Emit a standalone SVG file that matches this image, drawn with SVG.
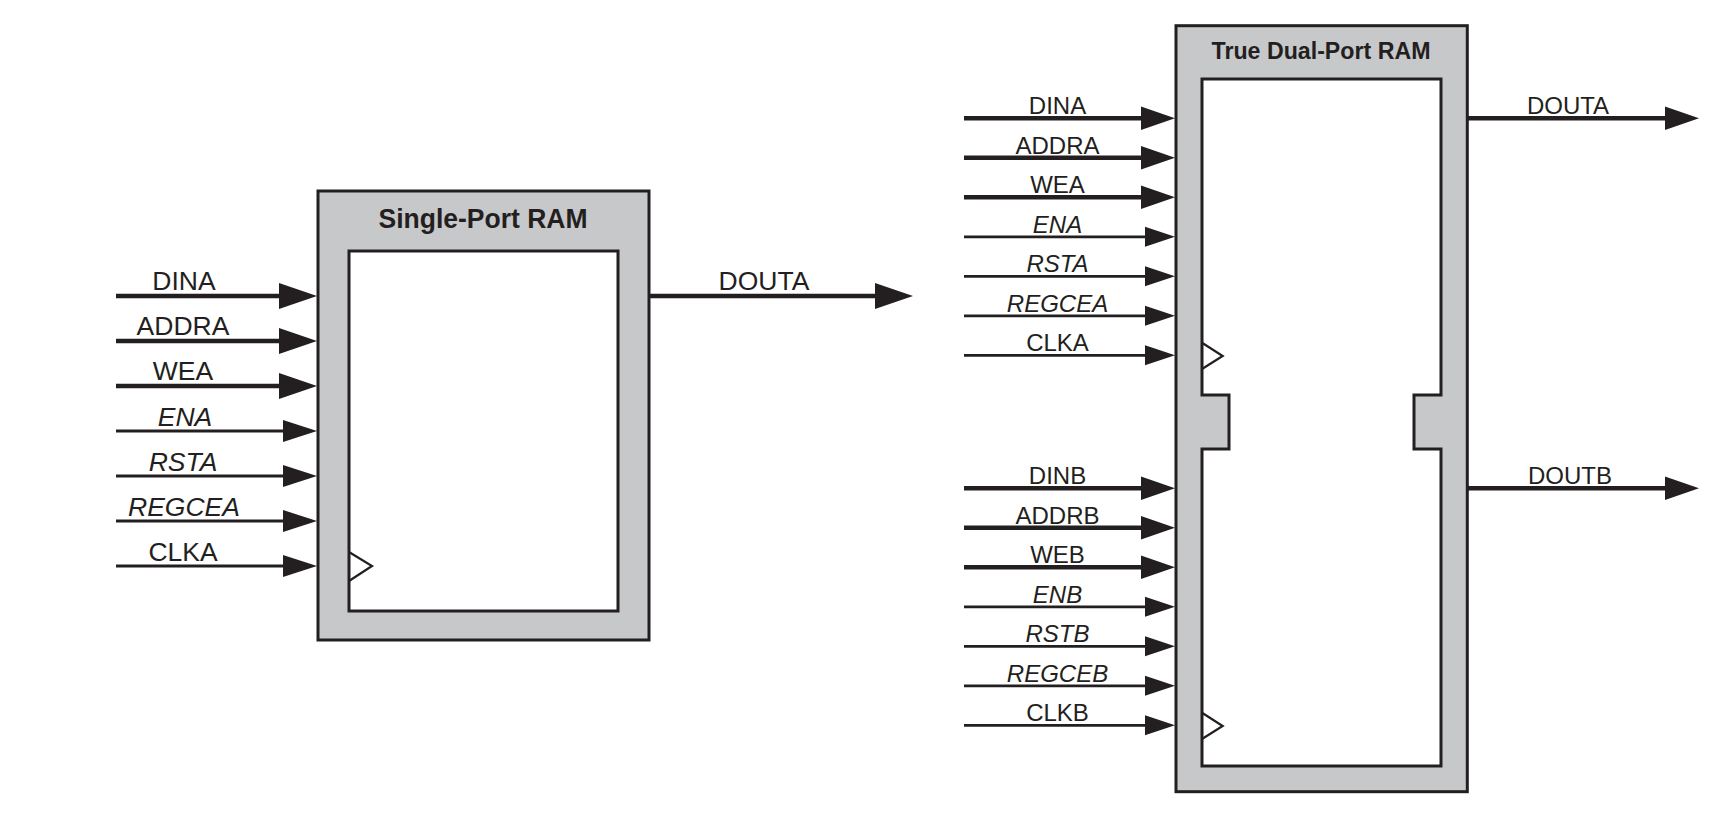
<svg xmlns="http://www.w3.org/2000/svg" width="1714" height="824" viewBox="0 0 1714 824">
<style>
  .outer { fill:#c7c8ca; stroke:#231f20; stroke-width:3; }
  .inner { fill:#ffffff; stroke:#231f20; stroke-width:3; }
  .clk { fill:none; stroke:#231f20; stroke-width:2.2; }
  .bus { stroke:#231f20; stroke-width:4.5; fill:none; }
  .sig { stroke:#231f20; stroke-width:2.8; fill:none; }
  text { font-family:"Liberation Sans", Arial, Helvetica, sans-serif; fill:#231f20; text-anchor:middle; }
  .title { font-weight:bold; }
  .lblL { font-size:26.5px; }
  .lblR { font-size:24px; }
  .it { font-style:italic; }
</style>
<defs>
  <marker id="ahBusL" markerUnits="userSpaceOnUse" markerWidth="40" markerHeight="28" viewBox="0 -14 40 28" refX="2" refY="0" orient="auto">
    <path d="M0,-13 L38,0 L0,13 Z" fill="#231f20"/>
  </marker>
  <marker id="ahSigL" markerUnits="userSpaceOnUse" markerWidth="36" markerHeight="24" viewBox="0 -12 36 24" refX="2" refY="0" orient="auto">
    <path d="M0,-11 L34,0 L0,11 Z" fill="#231f20"/>
  </marker>
  <marker id="ahBusR" markerUnits="userSpaceOnUse" markerWidth="36" markerHeight="26" viewBox="0 -13 36 26" refX="2" refY="0" orient="auto">
    <path d="M0,-11.7 L34,0 L0,11.7 Z" fill="#231f20"/>
  </marker>
  <marker id="ahSigR" markerUnits="userSpaceOnUse" markerWidth="32" markerHeight="22" viewBox="0 -11 32 22" refX="2" refY="0" orient="auto">
    <path d="M0,-10 L30,0 L0,10 Z" fill="#231f20"/>
  </marker>
</defs>

<g id="single-port-ram">
  <rect class="outer" x="318" y="191" width="331" height="449"/>
  <rect class="inner" x="349" y="251" width="269" height="360"/>
  <polyline class="clk" points="349,552 372,566 349,581"/>
  <text class="title" x="483" y="228" font-size="27" textLength="209" lengthAdjust="spacingAndGlyphs">Single-Port RAM</text>
</g>

<g id="true-dual-port-ram">
  <rect class="outer" x="1176" y="25.7" width="291.3" height="766"/>
  <path class="inner" d="M1202,79 H1441 V395 H1414 V449 H1441 V766 H1202 V449 H1229 V395 H1202 Z"/>
  <polyline class="clk" points="1202,342.7 1222.7,356 1202,369"/>
  <polyline class="clk" points="1202,712.7 1222.7,726 1202,739"/>
  <text class="title" x="1321" y="59" font-size="24.5" textLength="219" lengthAdjust="spacingAndGlyphs">True Dual-Port RAM</text>
</g>

<g id="connectors">
  <!-- Single-port inputs -->
  <line class="bus" x1="116" y1="296" x2="281" y2="296" marker-end="url(#ahBusL)"/>
  <line class="bus" x1="116" y1="341" x2="281" y2="341" marker-end="url(#ahBusL)"/>
  <line class="bus" x1="116" y1="386" x2="281" y2="386" marker-end="url(#ahBusL)"/>
  <line class="sig" x1="116" y1="431" x2="285" y2="431" marker-end="url(#ahSigL)"/>
  <line class="sig" x1="116" y1="476" x2="285" y2="476" marker-end="url(#ahSigL)"/>
  <line class="sig" x1="116" y1="521" x2="285" y2="521" marker-end="url(#ahSigL)"/>
  <line class="sig" x1="116" y1="566" x2="285" y2="566" marker-end="url(#ahSigL)"/>
  <!-- Single-port output -->
  <line class="bus" x1="649" y1="296" x2="877" y2="296" marker-end="url(#ahBusL)"/>

  <!-- Dual-port A inputs -->
  <line class="bus" x1="964" y1="118.3" x2="1143" y2="118.3" marker-end="url(#ahBusR)"/>
  <line class="bus" x1="964" y1="157.8" x2="1143" y2="157.8" marker-end="url(#ahBusR)"/>
  <line class="bus" x1="964" y1="197.3" x2="1143" y2="197.3" marker-end="url(#ahBusR)"/>
  <line class="sig" x1="964" y1="236.8" x2="1147" y2="236.8" marker-end="url(#ahSigR)"/>
  <line class="sig" x1="964" y1="276.3" x2="1147" y2="276.3" marker-end="url(#ahSigR)"/>
  <line class="sig" x1="964" y1="315.8" x2="1147" y2="315.8" marker-end="url(#ahSigR)"/>
  <line class="sig" x1="964" y1="355.3" x2="1147" y2="355.3" marker-end="url(#ahSigR)"/>
  <!-- Dual-port B inputs -->
  <line class="bus" x1="964" y1="488.3" x2="1143" y2="488.3" marker-end="url(#ahBusR)"/>
  <line class="bus" x1="964" y1="527.8" x2="1143" y2="527.8" marker-end="url(#ahBusR)"/>
  <line class="bus" x1="964" y1="567.3" x2="1143" y2="567.3" marker-end="url(#ahBusR)"/>
  <line class="sig" x1="964" y1="606.8" x2="1147" y2="606.8" marker-end="url(#ahSigR)"/>
  <line class="sig" x1="964" y1="646.3" x2="1147" y2="646.3" marker-end="url(#ahSigR)"/>
  <line class="sig" x1="964" y1="685.8" x2="1147" y2="685.8" marker-end="url(#ahSigR)"/>
  <line class="sig" x1="964" y1="725.3" x2="1147" y2="725.3" marker-end="url(#ahSigR)"/>
  <!-- Dual-port outputs -->
  <line class="bus" x1="1467" y1="118.3" x2="1667" y2="118.3" marker-end="url(#ahBusR)"/>
  <line class="bus" x1="1467" y1="488.3" x2="1667" y2="488.3" marker-end="url(#ahBusR)"/>
</g>

<g id="labels-single">
  <text class="lblL" x="184" y="290">DINA</text>
  <text class="lblL" x="183" y="335">ADDRA</text>
  <text class="lblL" x="183" y="380">WEA</text>
  <text class="lblL it" x="185" y="426">ENA</text>
  <text class="lblL it" x="183" y="471">RSTA</text>
  <text class="lblL it" x="184" y="516">REGCEA</text>
  <text class="lblL" x="183" y="561">CLKA</text>
  <text class="lblL" x="764" y="290">DOUTA</text>
</g>

<g id="labels-dual">
  <text class="lblR" x="1057.5" y="114">DINA</text>
  <text class="lblR" x="1057.5" y="153.5">ADDRA</text>
  <text class="lblR" x="1057.5" y="193">WEA</text>
  <text class="lblR it" x="1057.5" y="232.5">ENA</text>
  <text class="lblR it" x="1057.5" y="272">RSTA</text>
  <text class="lblR it" x="1057.5" y="311.5">REGCEA</text>
  <text class="lblR" x="1057.5" y="351">CLKA</text>
  <text class="lblR" x="1057.5" y="484">DINB</text>
  <text class="lblR" x="1057.5" y="523.5">ADDRB</text>
  <text class="lblR" x="1057.5" y="563">WEB</text>
  <text class="lblR it" x="1057.5" y="602.5">ENB</text>
  <text class="lblR it" x="1057.5" y="642">RSTB</text>
  <text class="lblR it" x="1057.5" y="681.5">REGCEB</text>
  <text class="lblR" x="1057.5" y="721">CLKB</text>
  <text class="lblR" x="1568" y="113.5">DOUTA</text>
  <text class="lblR" x="1570" y="483.5">DOUTB</text>
</g>
</svg>
